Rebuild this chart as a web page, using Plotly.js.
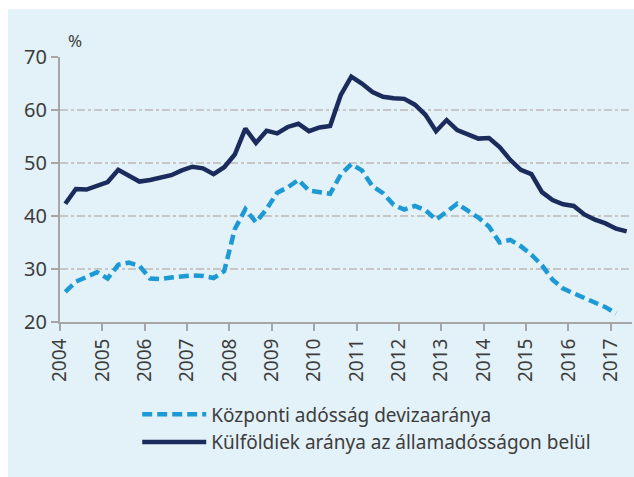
<!DOCTYPE html>
<html>
<head>
<meta charset="utf-8">
<script src="https://cdn.plot.ly/plotly-3.0.1.min.js"></script>
<style>
  html, body { margin: 0; padding: 0; background: #ffffff; width: 634px; height: 477px; overflow: hidden; }
  #chart { position: absolute; left: 8px; top: 9px; width: 626px; height: 468px; }
</style>
</head>
<body>
<div id="chart"></div>
<script>
// Quarterly periods 2004Q1 – 2017Q2
const years = [2004, 2005, 2006, 2007, 2008, 2009, 2010, 2011, 2012, 2013, 2014, 2015, 2016, 2017];
const quarterLabels = [];
years.forEach(function (y) { [1, 2, 3, 4].forEach(function (q) { if (!(y === 2017 && q > 2)) quarterLabels.push(y + 'Q' + q); }); });

// Központi adósság devizaaránya (%)
const deviza = [
  25.7, 27.6, 28.5, 29.4,
  28.2, 30.8, 31.2, 30.6,
  28.2, 28.1, 28.4, 28.7,
  28.8, 28.7, 28.3, 29.6,
  37.5, 41.3, 38.8, 41.3,
  44.4, 45.4, 46.8, 44.8,
  44.6, 44.2, 47.8, 49.8,
  48.6, 45.6, 44.3, 42.1,
  41.2, 41.9, 41.1, 39.3,
  40.8, 42.3, 41.0, 39.7,
  38.0, 35.0, 35.5, 34.3,
  32.7, 30.7, 28.0, 26.3,
  25.4, 24.6, 23.8, 22.8,
  21.6, null
];

// Külföldiek aránya az államadósságon belül (%)
const kulfoldi = [
  42.3, 45.1, 45.0, 45.7,
  46.4, 48.7, 47.5, 46.5,
  46.8, 47.3, 47.7, 48.6,
  49.3, 49.0, 47.9, 49.2,
  51.6, 56.5, 53.8, 56.1,
  55.6, 56.8, 57.4, 56.0,
  56.7, 57.0, 62.8, 66.3,
  65.0, 63.4, 62.5, 62.2,
  62.1, 61.0, 59.1, 56.0,
  58.1, 56.2, 55.4, 54.6,
  54.7, 53.0, 50.6, 48.7,
  47.9, 44.5, 43.0, 42.2,
  41.9, 40.3, 39.3, 38.6,
  37.6, 37.1
];

const seriesNames = ['Központi adósság devizaaránya', 'Külföldiek aránya az államadósságon belül'];
const yTicks = [20, 30, 40, 50, 60, 70];
const xTickLabels = years.map(String);

function quarterPos(label) {
  const y = parseInt(label.slice(0, 4), 10);
  const q = parseInt(label.slice(5), 10);
  return y + (q - 0.5) / 4;
}
const xPos = quarterLabels.map(quarterPos);

const textColor = '#3d3d3d';
const fontFam = '"Noto Sans", "Open Sans", Arial, sans-serif';

const traces = [
  {
    x: xPos, y: deviza, name: seriesNames[0], type: 'scatter', mode: 'lines',
    line: { color: '#1d9ad6', width: 4.5, dash: '10px,5px', shape: 'linear' },
    connectgaps: false
  },
  {
    x: xPos, y: kulfoldi, name: seriesNames[1], type: 'scatter', mode: 'lines',
    line: { color: '#1b2c5c', width: 4.5, shape: 'linear' }
  }
];

const layout = {
  width: 626, height: 468,
  margin: { l: 52, r: 2, t: 48, b: 155 },
  paper_bgcolor: '#e3f1f8',
  plot_bgcolor: '#e3f1f8',
  font: { family: fontFam, color: textColor, size: 19 },
  showlegend: true,
  legend: {
    x: 0.135, xanchor: 'left', y: -0.277, yanchor: 'top',
    bgcolor: 'rgba(0,0,0,0)', itemwidth: 64,
    font: { family: fontFam, size: 19, color: textColor },
    tracegroupgap: 0
  },
  xaxis: {
    range: [2004, 2017.5],
    tickmode: 'array', tickvals: years, ticktext: xTickLabels,
    tickangle: -90,
    ticks: 'outside', ticklen: 7, tickwidth: 2, tickcolor: '#a6a6a6',
    showline: true, linecolor: '#a6a6a6', linewidth: 2,
    showgrid: false, zeroline: false,
    tickfont: { family: fontFam, size: 19, color: textColor },
    fixedrange: true
  },
  yaxis: {
    range: [20, 70],
    tickmode: 'array', tickvals: yTicks,
    ticks: 'outside', ticklen: 7, tickwidth: 2, tickcolor: '#a6a6a6',
    showline: true, linecolor: '#a6a6a6', linewidth: 2,
    showgrid: true, gridcolor: '#c6c6c6', gridwidth: 2, griddash: '8px,3px,3px,3px',
    zeroline: false,
    tickfont: { family: fontFam, size: 20, color: textColor },
    fixedrange: true
  },
  annotations: [
    { text: '%', xref: 'paper', yref: 'paper', x: 0.0, y: 1.0, xanchor: 'left', yanchor: 'bottom',
      xshift: 6, yshift: 3, showarrow: false, font: { family: fontFam, size: 17, color: textColor } }
  ]
};

Plotly.newPlot('chart', traces, layout, { displayModeBar: false, staticPlot: true });
</script>
</body>
</html>
